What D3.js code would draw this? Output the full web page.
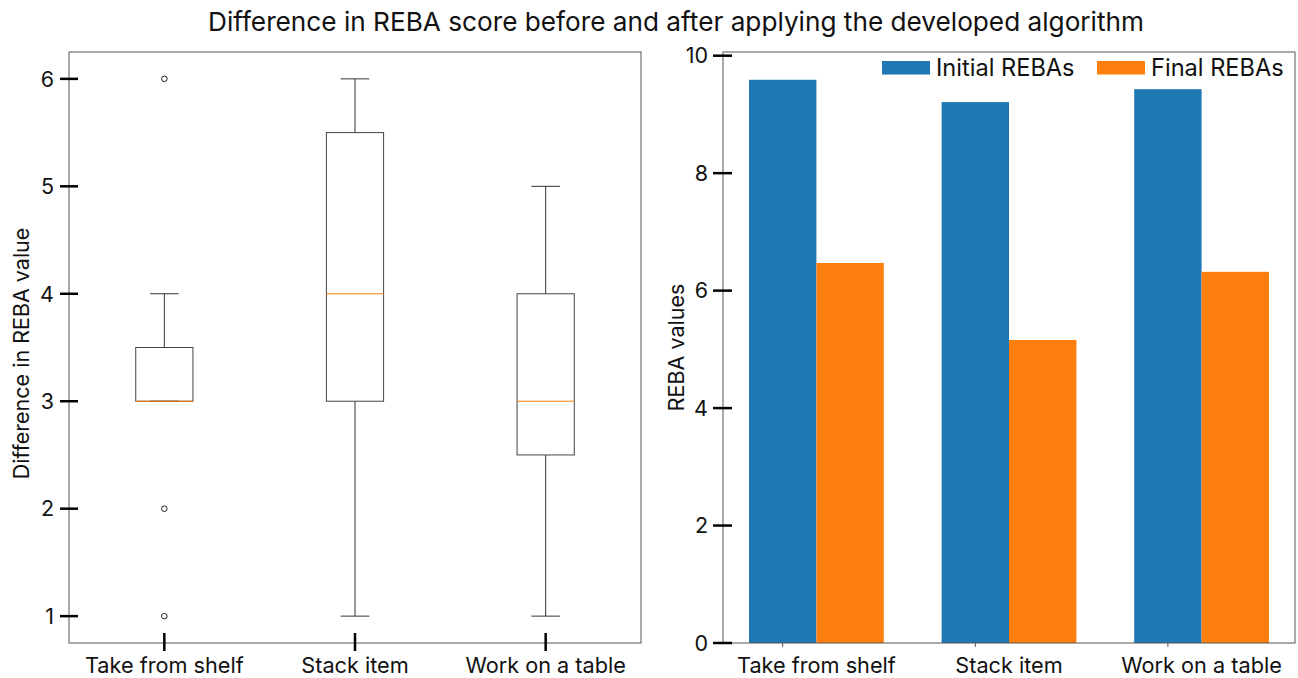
<!DOCTYPE html>
<html><head><meta charset="utf-8">
<script src="https://cdn.jsdelivr.net/npm/d3@7"></script>
<style>body{margin:0;background:#fff}svg{display:block;font-family:Inter,"DejaVu Sans",sans-serif}</style>
</head><body><svg id="c" width="1298" height="678"></svg>
<script>
const categories = ["Take from shelf","Stack item","Work on a table"];
// box plot stats: whisker low, q1, median, q3, whisker high
const whiskerLow = [3, 1, 1];
const q1 = [3, 3, 2.5];
const median = [3, 4, 3];
const q3 = [3.5, 5.5, 4];
const whiskerHigh = [4, 6, 5];
const fliers = [[6, 2, 1], [], []];
const boxTicks = [1,2,3,4,5,6];
// bar chart
const initialREBA = [9.59, 9.21, 9.43];
const finalREBA = [6.47, 5.16, 6.32];
const barTicks = [0,2,4,6,8,10];
const seriesNames = ["Initial REBAs","Final REBAs"];
const colors = ["#1f77b4","#ff7f0e"];

const svg = d3.select("#c");
svg.append("text").attr("x",676).attr("y",31).attr("text-anchor","middle")
  .attr("font-size",26.2).attr("fill","#111").text("Difference in REBA score before and after applying the developed algorithm");

// ---------- left: box plot ----------
const L = {x0:69,x1:641,y0:52,y1:643};
const xL = d3.scaleLinear().domain([0.5,3.5]).range([L.x0,L.x1]);
const yL = d3.scaleLinear().domain([0.75,6.25]).range([L.y1,L.y0]);
const gL = svg.append("g");
gL.append("rect").attr("x",L.x0).attr("y",L.y0).attr("width",L.x1-L.x0).attr("height",L.y1-L.y0)
  .attr("fill","none").attr("stroke","#555").attr("stroke-width",1);
const bw = 0.3;
categories.forEach((c,i)=>{
  const cx = xL(i+1);
  const g = gL.append("g");
  const half = (xL(bw)-xL(0))/2;
  const cap = half/2;
  g.append("line").attr("x1",cx).attr("x2",cx).attr("y1",yL(q3[i])).attr("y2",yL(whiskerHigh[i])).attr("stroke","#333");
  g.append("line").attr("x1",cx).attr("x2",cx).attr("y1",yL(q1[i])).attr("y2",yL(whiskerLow[i])).attr("stroke","#333");
  g.append("line").attr("x1",cx-cap).attr("x2",cx+cap).attr("y1",yL(whiskerHigh[i])).attr("y2",yL(whiskerHigh[i])).attr("stroke","#333");
  g.append("line").attr("x1",cx-cap).attr("x2",cx+cap).attr("y1",yL(whiskerLow[i])).attr("y2",yL(whiskerLow[i])).attr("stroke","#333");
  g.append("rect").attr("x",cx-half).attr("y",yL(q3[i])).attr("width",2*half).attr("height",yL(q1[i])-yL(q3[i]))
    .attr("fill","none").attr("stroke","#444");
  g.append("line").attr("x1",cx-half).attr("x2",cx+half).attr("y1",yL(median[i])).attr("y2",yL(median[i])).attr("stroke","#ff7f0e");
  fliers[i].forEach(v=>{
    g.append("circle").attr("cx",cx).attr("cy",yL(v)).attr("r",2.8).attr("fill","none").attr("stroke","#222").attr("stroke-width",1);
  });
});
boxTicks.forEach(t=>{
  gL.append("line").attr("x1",L.x0-9).attr("x2",L.x0+9).attr("y1",yL(t)).attr("y2",yL(t)).attr("stroke","#000").attr("stroke-width",2.5);
  gL.append("text").attr("x",L.x0-15).attr("y",yL(t)).attr("dy","0.36em").attr("text-anchor","end").attr("font-size",21.5).attr("fill","#111").text(t);
});
categories.forEach((c,i)=>{
  const cx=xL(i+1);
  gL.append("line").attr("x1",cx).attr("x2",cx).attr("y1",L.y1-10).attr("y2",L.y1+8).attr("stroke","#000").attr("stroke-width",2.5);
  gL.append("text").attr("x",cx).attr("y",673).attr("text-anchor","middle").attr("font-size",21.7).attr("fill","#111").text(c);
});
gL.append("text").attr("transform",`translate(29,${(L.y0+L.y1)/2 + 6}) rotate(-90)`).attr("text-anchor","middle")
  .attr("font-size",21.5).attr("fill","#111").text("Difference in REBA value");

// ---------- right: bar chart ----------
const R = {x0:723,x1:1295,y0:52,y1:643};
const barW = 0.35;
const xR = d3.scaleLinear().domain([-0.31,2.66]).range([R.x0,R.x1]);
const yR = d3.scaleLinear().domain([0,10]).range([R.y1,55.7]);
const gR = svg.append("g");
[initialREBA, finalREBA].forEach((arr,s)=>{
  gR.selectAll(null).data(arr).enter().append("rect")
    .attr("x",(d,i)=>xR(i+s*barW-barW/2)).attr("width",xR(barW)-xR(0))
    .attr("y",d=>yR(d)).attr("height",d=>yR(0)-yR(d)).attr("fill",colors[s]);
});
gR.append("rect").attr("x",R.x0).attr("y",R.y0).attr("width",R.x1-R.x0).attr("height",R.y1-R.y0)
  .attr("fill","none").attr("stroke","#555").attr("stroke-width",1);
barTicks.forEach(t=>{
  gR.append("line").attr("x1",R.x0-10).attr("x2",R.x0+9).attr("y1",yR(t)).attr("y2",yR(t)).attr("stroke","#000").attr("stroke-width",2.5);
  gR.append("text").attr("x",R.x0-15).attr("y",yR(t)).attr("dy","0.36em").attr("text-anchor","end").attr("font-size",21.5).attr("fill","#111").text(t);
});
categories.forEach((c,i)=>{
  gR.append("line").attr("x1",xR(i)).attr("x2",xR(i)).attr("y1",R.y1).attr("y2",R.y1+4).attr("stroke","#555").attr("stroke-width",1);
  gR.append("text").attr("x",xR(i+barW/2)).attr("y",673).attr("text-anchor","middle").attr("font-size",21.7).attr("fill","#111").text(c);
});
gR.append("text").attr("transform",`translate(684,${(R.y0+R.y1)/2}) rotate(-90)`).attr("text-anchor","middle")
  .attr("font-size",21.5).attr("fill","#111").text("REBA values");
const leg = [{x:882,tx:936},{x:1097,tx:1151}];
seriesNames.forEach((n,s)=>{
  gR.append("rect").attr("x",leg[s].x).attr("y",61).attr("width",48).attr("height",13.5).attr("fill",colors[s]);
  gR.append("text").attr("x",leg[s].tx).attr("y",76).attr("font-size",23.6).attr("fill","#111").text(n);
});
</script></body></html>
